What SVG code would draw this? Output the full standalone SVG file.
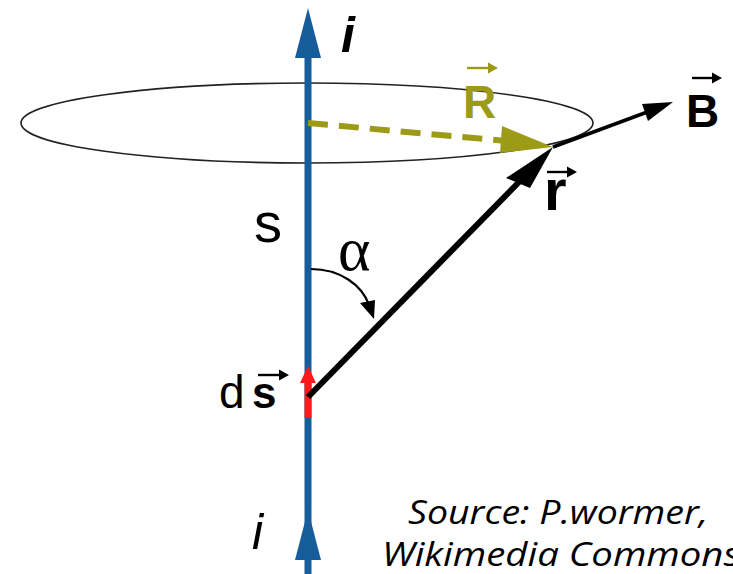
<svg xmlns="http://www.w3.org/2000/svg" width="733" height="574" viewBox="0 0 733 574">
<style>
.lbl{font-family:"Liberation Sans",Arial,sans-serif;fill:#000}
.src{font-family:"Open Sans","Liberation Sans",sans-serif;font-style:italic;font-size:32px;fill:#000}
</style>
<rect width="733" height="574" fill="#fff"/>
<g id="loop">
<ellipse cx="307" cy="123" rx="286" ry="40" fill="none" stroke="#222" stroke-width="1.6"/>
</g>
<g id="wire">
<line x1="308" y1="574" x2="308" y2="50" stroke="#175d9c" stroke-width="7"/>
<polygon points="308,8 321,58 295,58" fill="#175d9c"/>
<polygon points="308,510 321,560 295,560" fill="#175d9c"/>
</g>
<g id="ds-element">
<line x1="308" y1="378" x2="308" y2="418" stroke="#ff1a1a" stroke-width="7"/>
<polygon points="308,366 316,383 300,383" fill="#ff1a1a"/>
</g>
<g id="connectors">
<line x1="308" y1="123" x2="506" y2="141" stroke="#9c9a17" stroke-width="6" stroke-dasharray="20,11"/>
<polygon points="553,147 502,126 500,153" fill="#9c9a17"/>
<line x1="308" y1="397" x2="520" y2="181" stroke="#000" stroke-width="6"/>
<polygon points="553,147 506,178 530,188" fill="#000"/>
<line x1="553" y1="147" x2="650" y2="111" stroke="#000" stroke-width="3.5"/>
<polygon points="673,102 642,104 648,121" fill="#000"/>
<path d="M311,269 C340,269 362,285 369,305" fill="none" stroke="#000" stroke-width="2.2"/>
<polygon points="374,319 360,303 375,300" fill="#000"/>
</g>
<g id="labels">
<text class="lbl" x="341" y="52" font-size="50" font-style="italic" font-weight="bold">i</text>
<text class="lbl" x="252" y="549" font-size="50" font-style="italic">i</text>
<text class="lbl" x="254" y="242" font-size="56">s</text>
<text x="338" y="270" font-family="Liberation Serif,serif" font-size="62" fill="#000">α</text>
<text class="lbl" x="219" y="408" font-size="46">d</text>
<text class="lbl" x="252" y="408" font-size="44" font-weight="bold">s</text>
<line x1="258" y1="375" x2="280" y2="375" stroke="#000" stroke-width="2.4"/>
<polygon points="289,375 279,369.5 279,380.5" fill="#000"/>
<text class="lbl" x="463" y="118" font-size="46" font-weight="bold" style="fill:#9c9a17">R</text>
<line x1="467" y1="68" x2="489" y2="68" stroke="#9c9a17" stroke-width="2.4"/>
<polygon points="498,68 488,62.5 488,73.5" fill="#9c9a17"/>
<text class="lbl" x="686" y="127" font-size="46" font-weight="bold">B</text>
<line x1="692" y1="78" x2="713" y2="78" stroke="#000" stroke-width="2.4"/>
<polygon points="722,78 712,72.5 712,83.5" fill="#000"/>
<text class="lbl" x="544" y="210" font-size="58" font-weight="bold">r</text>
<line x1="547" y1="172" x2="568" y2="172" stroke="#000" stroke-width="2.4"/>
<polygon points="577,172 567,166.5 567,177.5" fill="#000"/>
<text class="src" x="408" y="524" textLength="300" lengthAdjust="spacingAndGlyphs">Source: P.wormer,</text>
<text class="src" x="382" y="566" textLength="358" lengthAdjust="spacingAndGlyphs">Wikimedia Commons</text>
</g>
</svg>
